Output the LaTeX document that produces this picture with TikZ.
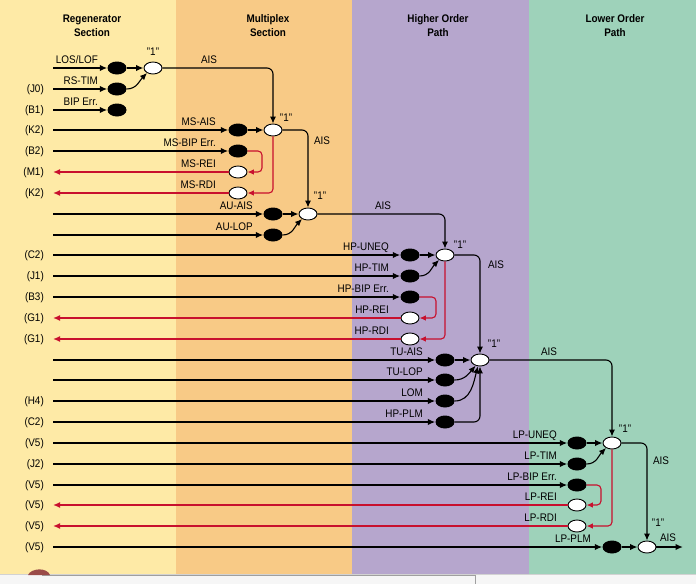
\documentclass[tikz,border=0pt]{standalone}
\usepackage{fontspec}
\setmainfont[FakeStretch=0.9]{Liberation Sans}
\usetikzlibrary{shapes.geometric,arrows.meta,calc}
\definecolor{cRegen}{HTML}{FEEAA6}
\definecolor{cMux}{HTML}{F8CA86}
\definecolor{cHO}{HTML}{B6A6CD}
\definecolor{cLO}{HTML}{9ED2BA}
\definecolor{cRed}{HTML}{C8102E}
\definecolor{cBlob}{HTML}{9A4B48}
\begin{document}
\begin{tikzpicture}[x=1pt,y=-1pt,
  blk/.style={ellipse,fill=black,minimum width=19pt,minimum height=13pt,inner sep=0pt},
  wht/.style={ellipse,draw=black,fill=white,line width=0.9pt,minimum width=18pt,minimum height=12pt,inner sep=0pt},
  orgate/.style={wht},
  sig/.style={line width=1.8pt,-{Latex[length=7.5pt,width=6.5pt]}},
  thinsig/.style={line width=1.1pt,-{Latex[length=7pt,width=6pt]}},
  redsig/.style={draw=cRed,line width=1.7pt,-{Latex[length=7pt,width=6pt]}},
  redloop/.style={draw=cRed,line width=1.1pt,rounded corners=4pt,-{Latex[length=6.5pt,width=5.5pt]}},
  outsig/.style={line width=1.1pt,rounded corners=6pt,-{Latex[length=7pt,width=6pt]}},
  lbl/.style={anchor=base east,inner sep=0pt,font=\fontsize{11}{13}\selectfont},
  tag/.style={anchor=base,inner sep=0pt,font=\fontsize{11}{13}\selectfont},
  src/.style={anchor=east,inner sep=0pt,font=\fontsize{11}{13}\selectfont},
  hdr/.style={align=center,font=\fontsize{11}{14}\selectfont\bfseries}
]
\useasboundingbox (0,0) rectangle (696,584);
% backgrounds
\fill[cRegen] (0,0) rectangle (176,574);
\fill[cMux] (176,0) rectangle (352,574);
\fill[cHO] (352,0) rectangle (529,574);
\fill[cLO] (529,0) rectangle (696,574);
\fill[gray!7] (0,574) rectangle (696,584);
\draw[gray!35,line width=0.6pt] (0,574.5) -- (696,574.5);
\draw[gray!75,line width=0.8pt] (42,575.5) -- (475,575.5) -- (475,584);
\fill[cBlob] (28,575) .. controls (31,568) and (47,567) .. (50,575) -- cycle;
% headers
\node[hdr] (h1) at (92,26) {Regenerator\\Section};
\node[hdr] (h2) at (268,26) {Multiplex\\Section};
\node[hdr] (h3) at (438,26) {Higher Order\\Path};
\node[hdr] (h4) at (615,26) {Lower Order\\Path};
% source coordinates
\coordinate (s0) at (53,68);
\coordinate (s1) at (53,89);
\coordinate (s2) at (53,110);
\coordinate (s3) at (53,130);
\coordinate (s4) at (53,151);
\coordinate (s5) at (53,172);
\coordinate (s6) at (53,193);
\coordinate (s7) at (53,214);
\coordinate (s8) at (53,235);
\coordinate (s9) at (53,255);
\coordinate (s10) at (53,276);
\coordinate (s11) at (53,297);
\coordinate (s12) at (53,318);
\coordinate (s13) at (53,339);
\coordinate (s14) at (53,360);
\coordinate (s15) at (53,380);
\coordinate (s16) at (53,401);
\coordinate (s17) at (53,422);
\coordinate (s18) at (53,443);
\coordinate (s19) at (53,464);
\coordinate (s20) at (53,485);
\coordinate (s21) at (53,505);
\coordinate (s22) at (53,526);
\coordinate (s23) at (53,547);
% source labels
\node[src] (l1) at (44,89.7) {(J0)};
\node[src] (l2) at (44,110.7) {(B1)};
\node[src] (l3) at (44,130.7) {(K2)};
\node[src] (l4) at (44,151.7) {(B2)};
\node[src] (l5) at (44,172.7) {(M1)};
\node[src] (l6) at (44,193.7) {(K2)};
\node[src] (l9) at (44,255.7) {(C2)};
\node[src] (l10) at (44,276.7) {(J1)};
\node[src] (l11) at (44,297.7) {(B3)};
\node[src] (l12) at (44,318.7) {(G1)};
\node[src] (l13) at (44,339.7) {(G1)};
\node[src] (l16) at (44,401.7) {(H4)};
\node[src] (l17) at (44,422.7) {(C2)};
\node[src] (l18) at (44,443.7) {(V5)};
\node[src] (l19) at (44,464.7) {(J2)};
\node[src] (l20) at (44,485.7) {(V5)};
\node[src] (l21) at (44,505.7) {(V5)};
\node[src] (l22) at (44,526.7) {(V5)};
\node[src] (l23) at (44,547.7) {(V5)};
% detector ellipses
\node[blk] (e0) at (117,68) {};
\node[blk] (e1) at (117,89) {};
\node[blk] (e2) at (117,110) {};
\node[blk] (e3) at (238,130) {};
\node[blk] (e4) at (238,151) {};
\node[wht] (w5) at (238,172) {};
\node[wht] (w6) at (238,193) {};
\node[blk] (e7) at (273,214) {};
\node[blk] (e8) at (273,235) {};
\node[blk] (e9) at (410,255) {};
\node[blk] (e10) at (410,276) {};
\node[blk] (e11) at (410,297) {};
\node[wht] (w12) at (410,318) {};
\node[wht] (w13) at (410,339) {};
\node[blk] (e14) at (445,360) {};
\node[blk] (e15) at (445,380) {};
\node[blk] (e16) at (445,401) {};
\node[blk] (e17) at (445,422) {};
\node[blk] (e18) at (577,443) {};
\node[blk] (e19) at (577,464) {};
\node[blk] (e20) at (577,485) {};
\node[wht] (w21) at (577,505) {};
\node[wht] (w22) at (577,526) {};
\node[blk] (e23) at (612,547) {};
% OR gates
\node[orgate] (g1) at (153,68) {};
\node[orgate] (g2) at (273,130) {};
\node[orgate] (g3) at (308,214) {};
\node[orgate] (g4) at (445,255) {};
\node[orgate] (g5) at (480,360) {};
\node[orgate] (g6) at (612,443) {};
\node[orgate] (g7) at (647,547) {};
\coordinate (out) at (683,547);
% gate labels
\node[tag] (q1) at (153,55.5) {"1"};
\node[tag] (q2) at (286,121) {"1"};
\node[tag] (q3) at (320,199) {"1"};
\node[tag] (q4) at (460,248) {"1"};
\node[tag] (q5) at (494,347) {"1"};
\node[tag] (q6) at (625,432) {"1"};
\node[tag] (q7) at (658,526) {"1"};
% AIS labels
\node[tag] (a1) at (209,63.5) {AIS};
\node[tag] (a2) at (322,144) {AIS};
\node[tag] (a3) at (383,209) {AIS};
\node[tag] (a4) at (496,268.5) {AIS};
\node[tag] (a5) at (549,355) {AIS};
\node[tag] (a6) at (661,464) {AIS};
\node[tag] (a7) at (668,541) {AIS};
% signal labels
\node[lbl] (t0) at (98,63.5) {LOS/LOF};
\node[lbl] (t1) at (98,84.5) {RS-TIM};
\node[lbl] (t2) at (98,105.5) {BIP Err.};
\node[lbl] (t3) at (216,125) {MS-AIS};
\node[lbl] (t4) at (216,146) {MS-BIP Err.};
\node[lbl] (t5) at (216,167) {MS-REI};
\node[lbl] (t6) at (216,188) {MS-RDI};
\node[lbl] (t7) at (253,209) {AU-AIS};
\node[lbl] (t8) at (253,230) {AU-LOP};
\node[lbl] (t9) at (389,250) {HP-UNEQ};
\node[lbl] (t10) at (389,271) {HP-TIM};
\node[lbl] (t11) at (389,292) {HP-BIP Err.};
\node[lbl] (t12) at (389,313) {HP-REI};
\node[lbl] (t13) at (389,334) {HP-RDI};
\node[lbl] (t14) at (423,355) {TU-AIS};
\node[lbl] (t15) at (423,375) {TU-LOP};
\node[lbl] (t16) at (423,396) {LOM};
\node[lbl] (t17) at (423,417) {HP-PLM};
\node[lbl] (t18) at (557,438) {LP-UNEQ};
\node[lbl] (t19) at (557,459) {LP-TIM};
\node[lbl] (t20) at (557,480) {LP-BIP Err.};
\node[lbl] (t21) at (557,500) {LP-REI};
\node[lbl] (t22) at (557,521) {LP-RDI};
\node[lbl] (t23) at (591,542) {LP-PLM};
% red corner coordinates
\coordinate (r5) at (262,172);
\coordinate (r12) at (436,318);
\coordinate (r21) at (601,505);
% regenerator section
\draw[sig] (s0) -- (e0);
\draw[sig] (e0) -- (g1);
\draw[sig] (s1) -- (e1);
\draw[thinsig] (e1.east) to[out=0,in=225] (g1.220);
\draw[sig] (s2) -- (e2);
\draw[outsig] (g1.east) -| (g2.north);
% multiplex section
\draw[sig] (s3) -- (e3);
\draw[sig] (e3) -- (g2);
\draw[sig] (s4) -- (e4);
\draw[redloop] (e4.east) -| (r5) -- (w5.east);
\draw[redsig] (w5.west) -- (s5);
\draw[redloop] (g2.south) |- (w6.east);
\draw[redsig] (w6.west) -- (s6);
\draw[outsig] (g2.east) -| (g3.north);
\draw[sig] (s7) -- (e7);
\draw[sig] (e7) -- (g3);
\draw[sig] (s8) -- (e8);
\draw[thinsig] (e8.east) to[out=0,in=225] (g3.220);
\draw[outsig] (g3.east) -| (g4.north);
% higher order path
\draw[sig] (s9) -- (e9);
\draw[sig] (e9) -- (g4);
\draw[sig] (s10) -- (e10);
\draw[thinsig] (e10.east) to[out=0,in=225] (g4.220);
\draw[sig] (s11) -- (e11);
\draw[redloop] (e11.east) -| (r12) -- (w12.east);
\draw[redsig] (w12.west) -- (s12);
\draw[redloop] (g4.south) |- (w13.east);
\draw[redsig] (w13.west) -- (s13);
\draw[outsig] (g4.east) -| (g5.north);
\draw[sig] (s14) -- (e14);
\draw[sig] (e14) -- (g5);
\draw[sig] (s15) -- (e15);
\draw[thinsig] (e15.east) to[out=0,in=230] (g5.232);
\draw[sig] (s16) -- (e16);
\draw[thinsig] (e16.east) to[out=0,in=255] (g5.252);
\draw[sig] (s17) -- (e17);
\draw[outsig] (e17.east) -| (g5.south);
\draw[outsig] (g5.east) -| (g6.north);
% lower order path
\draw[sig] (s18) -- (e18);
\draw[sig] (e18) -- (g6);
\draw[sig] (s19) -- (e19);
\draw[thinsig] (e19.east) to[out=0,in=225] (g6.220);
\draw[sig] (s20) -- (e20);
\draw[redloop] (e20.east) -| (r21) -- (w21.east);
\draw[redsig] (w21.west) -- (s21);
\draw[redloop] (g6.south) |- (w22.east);
\draw[redsig] (w22.west) -- (s22);
\draw[outsig] (g6.east) -| (g7.north);
\draw[sig] (s23) -- (e23);
\draw[sig] (e23) -- (g7);
\draw[sig] (g7) -- (out);
\end{tikzpicture}
\end{document}
